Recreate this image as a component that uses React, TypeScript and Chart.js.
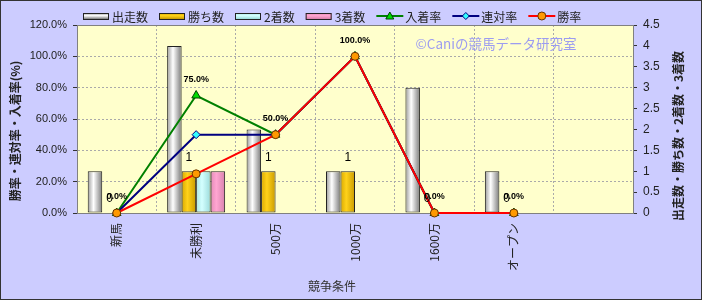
import React, { useEffect, useRef } from 'react';
import { Chart, registerables } from 'chart.js';

Chart.register(...registerables);

// ---- data ----
const categories = ['新馬', '未勝利', '500万', '1000万', '1600万', 'オープン', ''];
const runners = [1, 4, 2, 1, 3, 1, null];      // 出走数
const wins = [0, 1, 1, 1, 0, 0, null];         // 勝ち数
const seconds = [0, 1, 0, 0, 0, 0, null];      // 2着数
const thirds = [0, 1, 0, 0, 0, 0, null];       // 3着数
const placeRate = [0, 75, 50, 100, 0, 0, null]; // 入着率 (%)
const quinellaRate = [0, 50, 50, 100, 0, 0, null]; // 連対率 (%)
const winRate = [0, 25, 50, 100, 0, 0, null];  // 勝率 (%)

const pctTicks = [0, 20, 40, 60, 80, 100, 120];
const countTicks = [0, 0.5, 1, 1.5, 2, 2.5, 3, 3.5, 4, 4.5];

const JP = '"Noto Sans CJK JP", sans-serif';
const LAT = '"Liberation Sans", "Noto Sans CJK JP", sans-serif';

type BarStyle = { edge: string; mid: string; right: string };
const barStyles: Record<string, BarStyle> = {
  出走数: { edge: '#9a9a9a', mid: '#ffffff', right: '#7a7a7a' },
  勝ち数: { edge: '#d9a800', mid: '#ffd21a', right: '#c99a00' },
  '2着数': { edge: '#a8e6e6', mid: '#d4ffff', right: '#9adada' },
  '3着数': { edge: '#e58ab8', mid: '#ffa6d2', right: '#d880ad' },
};

const bgPlugin = {
  id: 'bgPlugin',
  beforeDraw(chart: any) {
    const { ctx, chartArea: a, width, height } = chart;
    ctx.save();
    ctx.fillStyle = '#ffffff';
    ctx.fillRect(0, 0, width, height);
    ctx.fillStyle = '#ccccff';
    ctx.fillRect(0, 0, 702, 300);
    ctx.strokeStyle = '#333333';
    ctx.lineWidth = 1;
    ctx.strokeRect(0.5, 0.5, 701, 299);
    ctx.fillStyle = '#ffffcc';
    ctx.fillRect(a.left, a.top, a.right - a.left, a.bottom - a.top);
    ctx.restore();
  },
  beforeDatasetsDraw(chart: any) {
    const { ctx, chartArea: a } = chart;
    ctx.save();
    ctx.strokeStyle = '#808080';
    ctx.lineWidth = 1;
    ctx.strokeRect(Math.round(a.left) + 0.5, Math.round(a.top) + 0.5, Math.round(a.right - a.left), Math.round(a.bottom - a.top));
    // watermark
    ctx.fillStyle = '#9c9cf0';
    ctx.font = '13.5px ' + JP;
    ctx.textAlign = 'center';
    ctx.textBaseline = 'middle';
    ctx.fillText('©Caniの競馬データ研究室', 496, 44);
    ctx.restore();
  },
  beforeDatasetDraw(chart: any, args: any) {
    const ds = chart.data.datasets[args.index];
    const st = barStyles[ds.label];
    if (!st || ds.type !== 'bar') return;
    const ctx = chart.ctx;
    args.meta.data.forEach((el: any) => {
      const x = el.x, w = el.width;
      if (!isFinite(x) || !isFinite(w)) return;
      const g = ctx.createLinearGradient(x - w / 2, 0, x + w / 2, 0);
      g.addColorStop(0, st.edge);
      g.addColorStop(0.4, st.mid);
      g.addColorStop(1, st.right);
      el.options = Object.assign({}, el.options, { backgroundColor: g });
    });
  },
  afterDatasetsDraw(chart: any) {
    const { ctx } = chart;
    ctx.save();
    ctx.fillStyle = '#000000';
    ctx.textAlign = 'center';
    ctx.textBaseline = 'middle';
    chart.data.datasets.forEach((ds: any, di: number) => {
      const meta = chart.getDatasetMeta(di);
      if (ds.label === '勝ち数') {
        ctx.font = '12px ' + LAT;
        meta.data.forEach((el: any, i: number) => {
          const v = ds.data[i];
          if (v === null || v === undefined) return;
          ctx.fillText(String(v), el.x, el.y - 14);
        });
      }
      if (ds.label === '入着率') {
        ctx.font = 'bold 9px ' + LAT;
        meta.data.forEach((el: any, i: number) => {
          const v = ds.data[i];
          if (v === null || v === undefined) return;
          ctx.fillText(v.toFixed(1) + '%', el.x, el.y - 16);
        });
      }
    });
    ctx.restore();
  },
  afterDraw(chart: any) {
    const { ctx } = chart;
    ctx.save();
    // axis titles
    ctx.fillStyle = '#222222';
    ctx.textAlign = 'center';
    ctx.textBaseline = 'middle';
    ctx.font = 'bold 12px ' + JP;
    ctx.save();
    ctx.translate(15, 131);
    ctx.rotate(-Math.PI / 2);
    ctx.fillText('勝率・連対率・入着率(%)', 0, 0);
    ctx.restore();
    ctx.save();
    ctx.translate(678, 136);
    ctx.rotate(-Math.PI / 2);
    ctx.fillText('出走数・勝ち数・2着数・3着数', 0, 0);
    ctx.restore();
    ctx.font = '12px ' + JP;
    ctx.fillStyle = '#333333';
    ctx.fillText('競争条件', 332, 286);

    // legend
    let x = 83;
    const yc = 16;
    ctx.font = '12px ' + JP;
    ctx.textAlign = 'left';
    chart.data.datasets.forEach((ds: any) => {
      if (ds.type === 'bar') {
        const st = barStyles[ds.label];
        const g = ctx.createLinearGradient(0, yc - 3, 0, yc + 3);
        g.addColorStop(0, st.edge);
        g.addColorStop(0.45, st.mid);
        g.addColorStop(1, st.right);
        ctx.fillStyle = g;
        ctx.fillRect(x, yc - 3, 26, 6);
        ctx.strokeStyle = '#222222';
        ctx.lineWidth = 1;
        ctx.strokeRect(x + 0.5, yc - 3 + 0.5, 25, 6);
      } else {
        ctx.strokeStyle = ds.borderColor;
        ctx.lineWidth = 2;
        ctx.beginPath();
        ctx.moveTo(x, yc);
        ctx.lineTo(x + 27, yc);
        ctx.stroke();
        ctx.lineWidth = 1;
        ctx.fillStyle = ds.pointBackgroundColor;
        ctx.strokeStyle = ds.pointBorderColor;
        const cx = x + 13.5;
        ctx.beginPath();
        if (ds.pointStyle === 'triangle') {
          ctx.moveTo(cx, yc - 4);
          ctx.lineTo(cx + 4, yc + 3);
          ctx.lineTo(cx - 4, yc + 3);
          ctx.closePath();
        } else if (ds.pointStyle === 'rectRot') {
          ctx.moveTo(cx, yc - 3.5);
          ctx.lineTo(cx + 3.5, yc);
          ctx.lineTo(cx, yc + 3.5);
          ctx.lineTo(cx - 3.5, yc);
          ctx.closePath();
        } else {
          ctx.arc(cx, yc, 4, 0, Math.PI * 2);
        }
        ctx.fill();
        ctx.stroke();
      }
      ctx.fillStyle = '#222222';
      ctx.fillText(ds.label, x + 29, yc + 1);
      x += 29 + ctx.measureText(ds.label).width + 11;
    });
    ctx.restore();
  },
};

export default function App() {
  const ref = useRef<HTMLCanvasElement | null>(null);
  useEffect(() => {
    document.body.style.margin = '0';
    document.body.style.overflow = 'hidden';
    const canvas = ref.current;
    if (!canvas) return;
    const barCommon = {
      type: 'bar' as const,
      yAxisID: 'y1',
      borderColor: '#222222',
      borderWidth: 1,
      borderSkipped: false,
      categoryPercentage: 0.73,
      barPercentage: 1.0,
    };
    const lineCommon = {
      type: 'line' as const,
      yAxisID: 'y',
      borderWidth: 2,
      tension: 0,
      clip: false,
      pointBorderWidth: 1,
      spanGaps: false,
    };
    const chart = new Chart(canvas, {
      type: 'bar',
      data: {
        labels: categories,
        datasets: [
          { ...barCommon, label: '出走数', data: runners, backgroundColor: '#e0e0e0', order: 3 },
          { ...barCommon, label: '勝ち数', data: wins, backgroundColor: '#ffcc00', order: 4 },
          { ...barCommon, label: '2着数', data: seconds, backgroundColor: '#ccffff', order: 5 },
          { ...barCommon, label: '3着数', data: thirds, backgroundColor: '#ff99cc', order: 6 },
          {
            ...lineCommon, label: '入着率', data: placeRate, borderColor: '#008000',
            pointStyle: 'triangle', pointRadius: 5, pointBackgroundColor: '#00dd00', pointBorderColor: '#004400', order: 2,
          },
          {
            ...lineCommon, label: '連対率', data: quinellaRate, borderColor: '#000080',
            pointStyle: 'rectRot', pointRadius: 4, pointBackgroundColor: '#33ffff', pointBorderColor: '#000080', order: 1,
          },
          {
            ...lineCommon, label: '勝率', data: winRate, borderColor: '#ff0000',
            pointStyle: 'circle', pointRadius: 4, pointBackgroundColor: '#ff9900', pointBorderColor: '#663300', order: 0,
          },
        ] as any,
      },
      options: {
        responsive: false,
        animation: false,
        events: [],
        layout: { padding: { top: 25, left: 0, right: 0, bottom: 0 } },
        plugins: { legend: { display: false }, tooltip: { enabled: false }, title: { display: false } },
        scales: {
          x: {
            offset: true,
            grid: { offset: true, color: '#aaaaaa', drawTicks: false, lineWidth: 1 },
            border: { color: '#333333', dash: [2, 2] },
            ticks: {
              autoSkip: false, maxRotation: 90, minRotation: 90, padding: 10,
              color: '#222222', font: { family: JP, size: 12 },
            },
            afterFit: (s: any) => { s.height = 88; },
          },
          y: {
            position: 'left',
            min: 0, max: 120,
            afterBuildTicks: (s: any) => { s.ticks = pctTicks.map((v) => ({ value: v })); },
            grid: { color: '#aaaaaa', tickColor: '#333333', tickLength: 4, lineWidth: 1 },
            border: { color: '#333333', dash: [2, 2] },
            ticks: {
              padding: 6, color: '#222222', font: { family: LAT, size: 11 },
              callback: (v: any) => Number(v).toFixed(1) + '%',
            },
            afterFit: (s: any) => { s.width = 77; },
          },
          y1: {
            position: 'right',
            min: 0, max: 4.5,
            afterBuildTicks: (s: any) => { s.ticks = countTicks.map((v) => ({ value: v })); },
            grid: { drawOnChartArea: false, tickColor: '#333333', tickLength: 4 },
            border: { color: '#333333' },
            ticks: {
              padding: 6, color: '#222222', font: { family: LAT, size: 12 },
              callback: (v: any) => String(v),
            },
            afterFit: (s: any) => { s.width = 70; },
          },
        },
      },
      plugins: [bgPlugin],
    });
    return () => chart.destroy();
  }, []);
  return (
    <div style={{ width: 703, height: 301 }}>
      <canvas ref={ref} width={703} height={301} style={{ display: 'block' }} />
    </div>
  );
}
